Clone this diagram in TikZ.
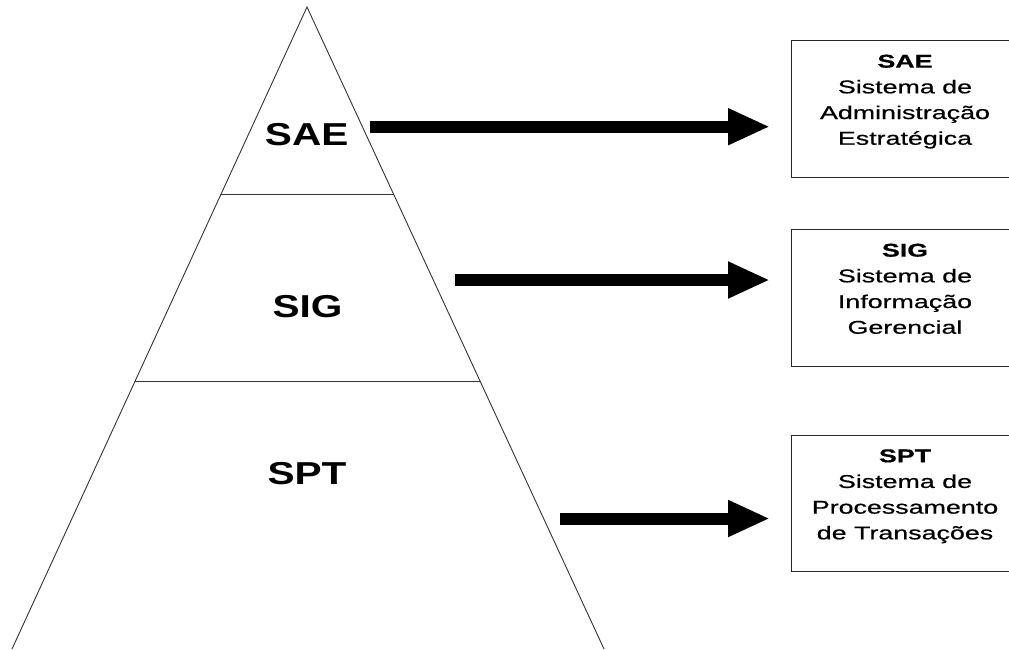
\documentclass[tikz,border=0pt]{standalone}
\usepackage{fontspec}
\usetikzlibrary{arrows.meta}
\newfontfamily\pyrfont{Liberation Sans}[FakeStretch=1.28]
\newfontfamily\boxfont{Liberation Sans}[FakeStretch=1.45,FakeBold=0.6]
\tikzset{
  pyrline/.style={line width=0.9pt, draw=black!80},
  layerlabel/.style={inner sep=0pt, font=\pyrfont\bfseries\fontsize{31.7}{36}\selectfont},
  sysbox/.style={minimum width=260pt, anchor=north west, inner sep=0pt},
  boxedge/.style={draw=black!85, line width=1pt},
  boxtext/.style={inner sep=0pt, anchor=north, align=center, font=\boxfont\fontsize{18.5}{25.7}\selectfont},
  bigarrow/.style={line width=12pt, -{Triangle[length=42pt,width=34pt]}}
}
\begin{document}
\begin{tikzpicture}[x=1pt,y=-1pt]
\path[use as bounding box] (0,0) rectangle (1009,649);
\clip (0,0) rectangle (1009,649);
\fill[white] (0,0) rectangle (1009,649);
% pyramid
\coordinate (apex) at (307,7);
\coordinate (bl) at (12,649);
\coordinate (br) at (604,649);
\coordinate (l1a) at (221.1,194);
\coordinate (l1b) at (393.5,194);
\coordinate (l2a) at (135.1,381);
\coordinate (l2b) at (480.0,381);
\draw[pyrline] (bl) -- (apex) -- (br);
\draw[pyrline] (l1a) -- (l1b);
\draw[pyrline] (l2a) -- (l2b);
% layer labels
\node[layerlabel] (sae) at (306.7,134.7) {SAE};
\node[layerlabel] (sig) at (307.5,307) {SIG};
\node[layerlabel] (spt) at (307,474) {SPT};
% boxes (right side runs past the picture edge)
\node[sysbox, minimum height=137pt] (box1) at (791,40) {};
\node[sysbox, minimum height=137pt] (box2) at (791,229) {};
\node[sysbox, minimum height=136pt] (box3) at (791,435) {};
\foreach \b in {box1,box2,box3}
  \draw[boxedge] (\b.north east) -- (\b.north west) -- (\b.south west) -- (\b.south east);
\node[boxtext] (t1) at (905,54.5) {\textbf{SAE}\\Sistema de\\Administração\\Estratégica};
\node[boxtext] (t2) at (905,243.5) {\textbf{SIG}\\Sistema de\\Informação\\Gerencial};
\node[boxtext] (t3) at (905,449.1) {\textbf{SPT}\\Sistema de\\Processamento\\de Transações};
% arrows
\coordinate (a1) at (370,126.7);
\coordinate (a2) at (455,280);
\coordinate (a3) at (560,518.5);
\draw[bigarrow, shorten >=21pt] (a1) -- (a1 -| box1.west);
\draw[bigarrow, shorten >=21pt] (a2) -- (a2 -| box2.west);
\draw[bigarrow, shorten >=21pt] (a3) -- (a3 -| box3.west);
\end{tikzpicture}
\end{document}
